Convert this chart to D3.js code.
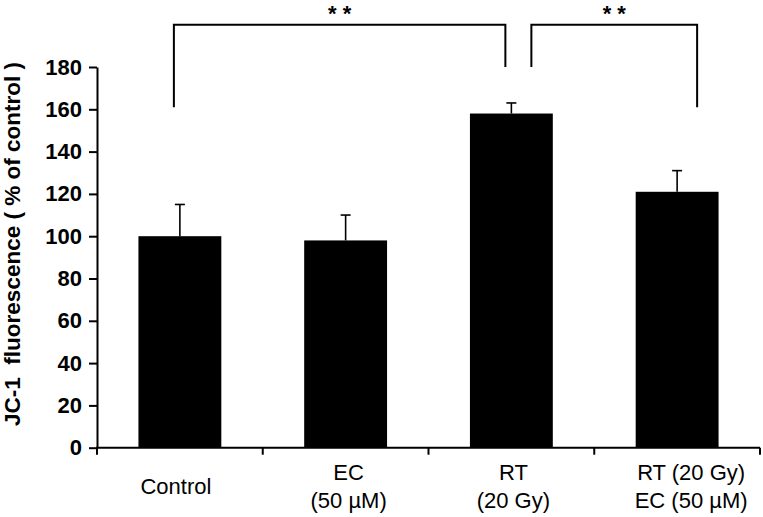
<!DOCTYPE html>
<html>
<head>
<meta charset="utf-8">
<script src="https://cdn.jsdelivr.net/npm/d3@7"></script>
<style>
  html, body { margin: 0; padding: 0; background: #fff; }
  svg { display: block; font-family: "Liberation Sans", Arial, sans-serif; }
</style>
</head>
<body>
<svg id="chart" width="763" height="517"></svg>
<script>
// ---- data ----
const categories = ["Control", "EC\n(50 µM)", "RT\n(20 Gy)", "RT (20 Gy)\nEC (50 µM)"];
const values = [100, 98, 158, 121];
const errors = [15, 12, 5, 10];
const yTicks = [0, 20, 40, 60, 80, 100, 120, 140, 160, 180];
const yLabel = "JC-1  fluorescence ( % of control )";
// significance brackets: from category, to category, leg ends (data units), top (data units)
const bracketFrom = [0, 2];
const bracketTo = [2, 3];
const bracketLegFrom = [161, 180];
const bracketLegTo = [180, 161];
const bracketTop = [200, 200];
const bracketText = ["* *", "* *"];

// ---- layout / style ----
const svg = d3.select("#chart");
const x0 = 97, x1 = 760, yBase = 447.7, yTopPx = 67;
const x = d3.scaleBand().domain(d3.range(categories.length)).range([x0, x1])
  .paddingInner(0.5).paddingOuter(0.25);
const y = d3.scaleLinear().domain([0, 180]).range([yBase, yTopPx]);
const labelDx = [-4, 3, 2, 14];
const bracketDx = [[-6, -6], [20, 20]];

// bars
svg.append("g").selectAll("rect").data(values).join("rect")
  .attr("x", (d, i) => x(i))
  .attr("y", d => y(d))
  .attr("width", x.bandwidth())
  .attr("height", d => y(0) - y(d))
  .attr("fill", "#000");

// error bars (upper only)
const eb = svg.append("g").attr("stroke", "#000").attr("stroke-width", 1.6);
values.forEach((v, i) => {
  const cx = x(i) + x.bandwidth() / 2;
  eb.append("line").attr("x1", cx).attr("x2", cx).attr("y1", y(v)).attr("y2", y(v + errors[i]));
  eb.append("line").attr("x1", cx - 5).attr("x2", cx + 5).attr("y1", y(v + errors[i])).attr("y2", y(v + errors[i]));
});

// y axis
const yAxis = d3.axisLeft(y).tickValues(yTicks).tickSize(8).tickPadding(7).tickSizeOuter(0);
const gy = svg.append("g").attr("transform", `translate(${x0},0)`).call(yAxis);
gy.select(".domain").attr("stroke-width", 2);
gy.selectAll(".tick line").attr("stroke-width", 2);
gy.selectAll(".tick text").attr("font-size", 22).attr("font-weight", "bold")
  .attr("font-family", "'Liberation Sans', Arial, sans-serif").attr("fill", "#000");

// x axis
const step = x.step();
const gx = svg.append("g").attr("stroke", "#000").attr("stroke-width", 2);
gx.append("line").attr("x1", x0 - 1).attr("x2", x1).attr("y1", yBase).attr("y2", yBase);
d3.range(categories.length + 1).forEach(k => {
  const tx = x0 + k * step;
  gx.append("line").attr("x1", tx).attr("x2", tx).attr("y1", yBase).attr("y2", yBase + 7);
});

// x labels
const xl = svg.append("g").attr("font-size", 22).attr("text-anchor", "middle").attr("fill", "#000");
categories.forEach((c, i) => {
  const lines = c.split("\n");
  const cx = x(i) + x.bandwidth() / 2 + labelDx[i];
  const t = xl.append("text").attr("x", cx).attr("y", 494 - (lines.length - 1) * 14);
  lines.forEach((ln, j) => {
    t.append("tspan").attr("x", cx).attr("dy", j === 0 ? 0 : 28).text(ln);
  });
});

// y label
svg.append("text")
  .attr("transform", "translate(20,244) rotate(-90)")
  .attr("text-anchor", "middle")
  .attr("font-size", 22.5).attr("font-weight", "bold")
  .attr("fill", "#000")
  .style("white-space", "pre")
  .attr("xml:space", "preserve")
  .text(yLabel);

// significance brackets
const br = svg.append("g");
bracketFrom.forEach((f, k) => {
  const xa = x(f) + x.bandwidth() / 2 + bracketDx[k][0];
  const xb = x(bracketTo[k]) + x.bandwidth() / 2 + bracketDx[k][1];
  const path = d3.path();
  path.moveTo(xa, y(bracketLegFrom[k]));
  path.lineTo(xa, y(bracketTop[k]));
  path.lineTo(xb, y(bracketTop[k]));
  path.lineTo(xb, y(bracketLegTo[k]));
  br.append("path").attr("d", path.toString()).attr("fill", "none")
    .attr("stroke", "#000").attr("stroke-width", 2);
  br.append("text").attr("x", (xa + xb) / 2).attr("y", 21)
    .attr("text-anchor", "middle").attr("font-size", 22).attr("font-weight", "bold")
    .style("white-space", "pre").attr("fill", "#000").text(bracketText[k]);
});
</script>
</body>
</html>
